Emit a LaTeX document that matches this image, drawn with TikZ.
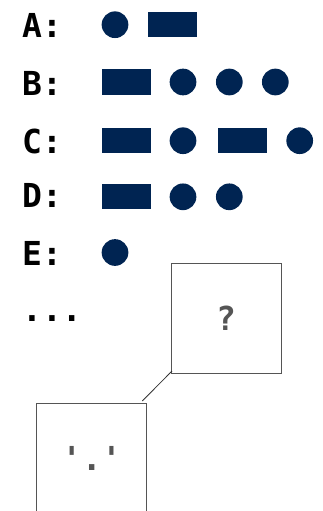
\documentclass[tikz,border=0pt]{standalone}
\usepackage{fontspec}
\setmonofont{DejaVu Sans Mono}
\definecolor{morse}{RGB}{0,36,82}
\definecolor{boxgray}{RGB}{85,85,85}
\begin{document}
\begin{tikzpicture}[x=1pt,y=-1pt,
  lbl/.style={anchor=base west,inner sep=0pt,font=\ttfamily\bfseries\fontsize{33}{40}\selectfont},
  mdot/.style={circle,fill=morse,minimum size=26.7pt,inner sep=0pt},
  mdash/.style={rectangle,fill=morse,minimum width=49pt,minimum height=25.3pt,inner sep=0pt},
  qbox/.style={draw=boxgray,line width=0.9pt,minimum size=110pt,inner sep=0pt,text=boxgray,font=\ttfamily\bfseries\fontsize{33}{40}\selectfont}]
\useasboundingbox (0,0) rectangle (322,511);
% labels
\node[lbl] (la) at (22,37.7) {A:};
\node[lbl] (lb) at (22,95) {B:};
\node[lbl] (lc) at (22,153) {C:};
\node[lbl] (ld) at (22,207.7) {D:};
\node[lbl] (le) at (22,265.7) {E:};
\node[lbl] (ldots) at (22,321.7) {...};
% A
\node[mdot] (a1) at (115,24.7) {};
\node[mdash] (a2) at (172.5,24.7) {};
% B
\node[mdash] (b1) at (126.3,82) {};
\node[mdot] (b2) at (183,82) {};
\node[mdot] (b3) at (229.3,82) {};
\node[mdot] (b4) at (275.3,82) {};
% C
\node[mdash] (c1) at (126.3,140.7) {};
\node[mdot] (c2) at (183,140.7) {};
\node[mdash] (c3) at (242.5,140.7) {};
\node[mdot] (c4) at (299.7,140.7) {};
% D
\node[mdash] (d1) at (126.3,196.8) {};
\node[mdot] (d2) at (183,196.8) {};
\node[mdot] (d3) at (229.3,196.8) {};
% E
\node[mdot] (e1) at (115,252.5) {};
% boxes
\node[qbox] (q1) at (226,318) {?};
\node[qbox] (q2) at (91.8,458) {'.'};
\coordinate (k1) at (172,371);
\coordinate (k2) at (142.3,401);
\draw[line width=0.8pt,draw=black!80] (k1) -- (k2);
\end{tikzpicture}
\end{document}
